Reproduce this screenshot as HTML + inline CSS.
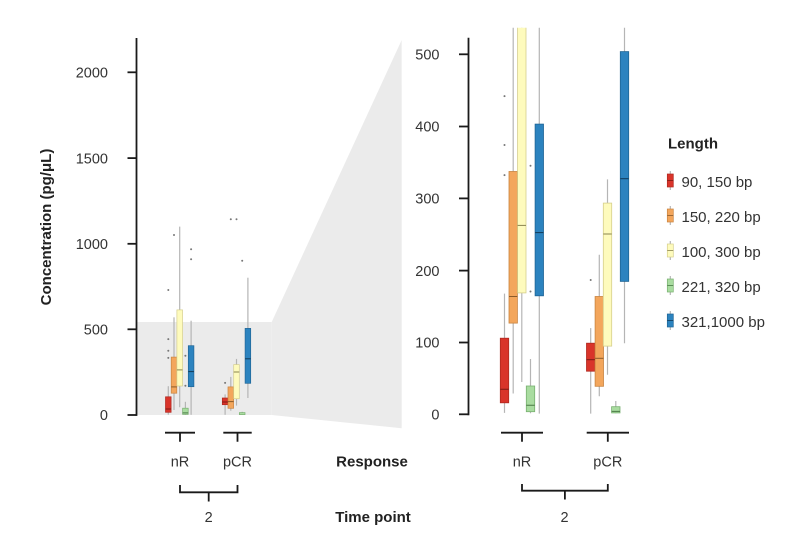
<!DOCTYPE html>
<html><head><meta charset="utf-8">
<style>
html,body{margin:0;padding:0;background:#fff;}
svg{display:block;}
text{font-family:"Liberation Sans",Arial,sans-serif;}
.tk{font-size:14.5px;fill:#333;}
.bd{font-size:15px;font-weight:bold;fill:#222;}
.lg{font-size:15px;fill:#333;}
.ax{stroke:#1a1a1a;stroke-width:1.8;fill:none;}
.wh{stroke:#b5b5b5;stroke-width:1.2;}
.md{stroke-width:1;}
.pt{fill:#777;}
</style></head>
<body>
<svg width="808" height="538" viewBox="0 0 808 538" xmlns="http://www.w3.org/2000/svg">
<defs>
<clipPath id="cr"><rect x="470" y="27.7" width="170" height="400"/></clipPath>
</defs>
<!-- grey zoom region -->
<rect x="136.5" y="322" width="135.2" height="93" fill="#ebebeb"/>
<polygon points="271.7,322 401.7,40 401.7,428.3 271.7,415" fill="#ebebeb"/>

<!-- LEFT PANEL -->
<g>
<!-- whiskers -->
<line class="wh" x1="168.3" y1="386.2" x2="168.3" y2="414.7"/>
<line class="wh" x1="174.0" y1="317.3" x2="174.0" y2="410.0"/>
<line class="wh" x1="179.7" y1="226.6" x2="179.7" y2="407.3"/>
<line class="wh" x1="185.4" y1="401.8" x2="185.4" y2="414.8"/>
<line class="wh" x1="191.1" y1="320.7" x2="191.1" y2="414.8"/>
<line class="wh" x1="225.1" y1="394.4" x2="225.1" y2="414.8"/>
<line class="wh" x1="230.8" y1="376.9" x2="230.8" y2="410.7"/>
<line class="wh" x1="236.5" y1="358.9" x2="236.5" y2="405.6"/>
<line class="wh" x1="242.2" y1="411.8" x2="242.2" y2="414.8"/>
<line class="wh" x1="247.9" y1="277.7" x2="247.9" y2="398.0"/>
<!-- boxes -->
<rect x="165.5" y="396.8" width="5.6" height="15.5" fill="#d9342a" stroke="#b02820" stroke-width="0.7"/>
<rect x="171.2" y="357.1" width="5.6" height="36.1" fill="#f3a65c" stroke="#c98440" stroke-width="0.7"/>
<rect x="176.9" y="309.9" width="5.6" height="76.1" fill="#fefbbd" stroke="#d6cf8c" stroke-width="0.7"/>
<rect x="182.6" y="408.2" width="5.6" height="6.2" fill="#a9dca0" stroke="#78b070" stroke-width="0.7"/>
<rect x="188.3" y="345.7" width="5.6" height="41.0" fill="#2c83bf" stroke="#1f6596" stroke-width="0.7"/>
<rect x="222.3" y="398.0" width="5.6" height="6.7" fill="#d9342a" stroke="#b02820" stroke-width="0.7"/>
<rect x="228.0" y="386.9" width="5.6" height="21.4" fill="#f3a65c" stroke="#c98440" stroke-width="0.7"/>
<rect x="233.7" y="364.6" width="5.6" height="34.1" fill="#fefbbd" stroke="#d6cf8c" stroke-width="0.7"/>
<rect x="239.4" y="412.6" width="5.6" height="2.0" fill="#a9dca0" stroke="#78b070" stroke-width="0.7"/>
<rect x="245.1" y="328.4" width="5.6" height="54.9" fill="#2c83bf" stroke="#1f6596" stroke-width="0.7"/>
<!-- medians -->
<g class="md">
<line x1="165.5" y1="409.0" x2="171.1" y2="409.0" stroke="#7a1a14"/>
<line x1="171.2" y1="386.9" x2="176.8" y2="386.9" stroke="#8a5a2a"/>
<line x1="176.9" y1="369.9" x2="182.5" y2="369.9" stroke="#8a8550"/>
<line x1="182.6" y1="412.9" x2="188.2" y2="412.9" stroke="#4a7a44"/>
<line x1="188.3" y1="371.6" x2="193.9" y2="371.6" stroke="#123a58"/>
<line x1="222.3" y1="402.0" x2="227.9" y2="402.0" stroke="#7a1a14"/>
<line x1="228.0" y1="401.6" x2="233.6" y2="401.6" stroke="#8a5a2a"/>
<line x1="233.7" y1="372.0" x2="239.3" y2="372.0" stroke="#8a8550"/>
<line x1="245.1" y1="358.8" x2="250.7" y2="358.8" stroke="#123a58"/>
</g>
<!-- outliers -->
<g class="pt">
<circle cx="168.3" cy="357.9" r="1"/><circle cx="168.3" cy="350.7" r="1"/>
<circle cx="168.3" cy="339.1" r="1"/><circle cx="168.3" cy="290.0" r="1"/>
<circle cx="174.0" cy="235.0" r="1"/>
<circle cx="185.4" cy="385.7" r="1"/><circle cx="185.4" cy="355.7" r="1"/>
<circle cx="191.1" cy="259.3" r="1"/><circle cx="191.1" cy="249.2" r="1"/>
<circle cx="225.1" cy="382.9" r="1"/>
<circle cx="230.8" cy="219.2" r="1"/><circle cx="236.5" cy="219.2" r="1"/>
<circle cx="242.2" cy="260.7" r="1"/>
</g>
<!-- axis -->
<line class="ax" x1="136.5" y1="38" x2="136.5" y2="415.9"/>
<line class="ax" x1="127.5" y1="72.3" x2="136.5" y2="72.3"/>
<line class="ax" x1="127.5" y1="158.1" x2="136.5" y2="158.1"/>
<line class="ax" x1="127.5" y1="243.8" x2="136.5" y2="243.8"/>
<line class="ax" x1="127.5" y1="329.3" x2="136.5" y2="329.3"/>
<line class="ax" x1="127.5" y1="415" x2="136.5" y2="415"/>
<g class="tk" text-anchor="end">
<text x="108" y="77.5">2000</text>
<text x="108" y="163.3">1500</text>
<text x="108" y="249">1000</text>
<text x="108" y="334.5">500</text>
<text x="108" y="420.2">0</text>
</g>
<text class="bd" transform="translate(51,227) rotate(-90)" text-anchor="middle">Concentration (pg/μL)</text>
<!-- brackets -->
<path class="ax" d="M165,432.7 H195 M180,432.7 V441.7 M223.3,432.7 H251.7 M237.5,432.7 V441.7"/>
<path class="ax" d="M180,485 V492.3 H237.5 V485 M208.7,492.3 V501.5"/>
<text class="tk" x="180" y="466.5" text-anchor="middle">nR</text>
<text class="tk" x="237.5" y="466.5" text-anchor="middle">pCR</text>
<text class="tk" x="208.7" y="522" text-anchor="middle">2</text>
</g>

<text class="bd" x="372" y="466.5" text-anchor="middle">Response</text>
<text class="bd" x="373" y="522" text-anchor="middle">Time point</text>

<!-- RIGHT PANEL -->
<g clip-path="url(#cr)">
<line class="wh" x1="504.5" y1="293.6" x2="504.5" y2="412.9"/>
<line class="wh" x1="513.2" y1="20" x2="513.2" y2="393.5"/>
<line class="wh" x1="521.8" y1="20" x2="521.8" y2="382.0"/>
<line class="wh" x1="530.5" y1="359.0" x2="530.5" y2="413.3"/>
<line class="wh" x1="539.3" y1="20" x2="539.3" y2="413.6"/>
<line class="wh" x1="590.7" y1="328.1" x2="590.7" y2="413.6"/>
<line class="wh" x1="599.3" y1="254.8" x2="599.3" y2="396.3"/>
<line class="wh" x1="607.5" y1="179.4" x2="607.5" y2="374.8"/>
<line class="wh" x1="615.8" y1="401.0" x2="615.8" y2="413.3"/>
<line class="wh" x1="624.5" y1="20" x2="624.5" y2="343.2"/>

<rect x="500.3" y="338.2" width="8.4" height="64.6" fill="#d9342a" stroke="#b02820" stroke-width="0.8"/>
<rect x="509.0" y="171.5" width="8.4" height="151.6" fill="#f3a65c" stroke="#c98440" stroke-width="0.8"/>
<rect x="517.6" y="20" width="8.4" height="272.9" fill="#fefbbd" stroke="#d6cf8c" stroke-width="0.8"/>
<rect x="526.3" y="386.0" width="8.4" height="25.7" fill="#a9dca0" stroke="#78b070" stroke-width="0.8"/>
<rect x="535.1" y="124.1" width="8.4" height="171.7" fill="#2c83bf" stroke="#1f6596" stroke-width="0.8"/>
<rect x="586.5" y="343.2" width="8.4" height="28.0" fill="#d9342a" stroke="#b02820" stroke-width="0.8"/>
<rect x="595.1" y="296.5" width="8.4" height="89.8" fill="#f3a65c" stroke="#c98440" stroke-width="0.8"/>
<rect x="603.3" y="203.1" width="8.4" height="143.0" fill="#fefbbd" stroke="#d6cf8c" stroke-width="0.8"/>
<rect x="611.6" y="406.7" width="8.4" height="6.2" fill="#a9dca0" stroke="#78b070" stroke-width="0.8"/>
<rect x="620.3" y="51.6" width="8.4" height="229.8" fill="#2c83bf" stroke="#1f6596" stroke-width="0.8"/>

<g class="md">
<line x1="500.3" y1="389.2" x2="508.7" y2="389.2" stroke="#7a1a14"/>
<line x1="509.0" y1="296.5" x2="517.4" y2="296.5" stroke="#8a5a2a"/>
<line x1="517.6" y1="225.4" x2="526.0" y2="225.4" stroke="#8a8550"/>
<line x1="526.3" y1="405.3" x2="534.7" y2="405.3" stroke="#4a7a44"/>
<line x1="535.1" y1="232.6" x2="543.5" y2="232.6" stroke="#123a58"/>
<line x1="586.5" y1="359.7" x2="594.9" y2="359.7" stroke="#7a1a14"/>
<line x1="595.1" y1="358.3" x2="603.5" y2="358.3" stroke="#8a5a2a"/>
<line x1="603.3" y1="234.0" x2="611.7" y2="234.0" stroke="#8a8550"/>
<line x1="611.6" y1="411.4" x2="620.0" y2="411.4" stroke="#4a7a44"/>
<line x1="620.3" y1="178.7" x2="628.7" y2="178.7" stroke="#123a58"/>
</g>
<g class="pt">
<circle cx="504.5" cy="175.1" r="1"/><circle cx="504.5" cy="145.0" r="1"/><circle cx="504.5" cy="96.1" r="1"/>
<circle cx="530.5" cy="291.5" r="1"/><circle cx="530.5" cy="165.8" r="1"/>
<circle cx="590.7" cy="280.0" r="1"/>
</g>
</g>
<line class="ax" x1="468.5" y1="37.7" x2="468.5" y2="415.2"/>
<line class="ax" x1="459" y1="54.3" x2="468.5" y2="54.3"/>
<line class="ax" x1="459" y1="126.5" x2="468.5" y2="126.5"/>
<line class="ax" x1="459" y1="198.4" x2="468.5" y2="198.4"/>
<line class="ax" x1="459" y1="270.6" x2="468.5" y2="270.6"/>
<line class="ax" x1="459" y1="342.5" x2="468.5" y2="342.5"/>
<line class="ax" x1="459" y1="414.3" x2="468.5" y2="414.3"/>
<g class="tk" text-anchor="end">
<text x="439.5" y="59.5">500</text>
<text x="439.5" y="131.7">400</text>
<text x="439.5" y="203.6">300</text>
<text x="439.5" y="275.8">200</text>
<text x="439.5" y="347.7">100</text>
<text x="439.5" y="419.5">0</text>
</g>
<path class="ax" d="M501,432.7 H543 M522,432.7 V441.7 M586.7,432.7 H629 M607.8,432.7 V441.7"/>
<path class="ax" d="M522,484 V490.7 H607.8 V484 M564.9,490.7 V499.5"/>
<text class="tk" x="522" y="466.5" text-anchor="middle">nR</text>
<text class="tk" x="607.8" y="466.5" text-anchor="middle">pCR</text>
<text class="tk" x="564.5" y="522" text-anchor="middle">2</text>

<!-- LEGEND -->
<text class="bd" x="668" y="148.5">Length</text>
<g>
<line class="wh" x1="670.3" y1="171" x2="670.3" y2="190"/>
<rect x="667.3" y="174" width="6" height="13" fill="#d9342a" stroke="#b02820" stroke-width="0.7"/>
<line x1="667.3" y1="180.5" x2="673.3" y2="180.5" stroke="#7a1a14" stroke-width="0.8"/>
<text class="lg" x="681.5" y="187">90, 150 bp</text>

<line class="wh" x1="670.3" y1="206" x2="670.3" y2="225"/>
<rect x="667.3" y="209" width="6" height="13" fill="#f3a65c" stroke="#c98440" stroke-width="0.7"/>
<line x1="667.3" y1="215.5" x2="673.3" y2="215.5" stroke="#8a5a2a" stroke-width="0.8"/>
<text class="lg" x="681.5" y="222">150, 220 bp</text>

<line class="wh" x1="670.3" y1="241" x2="670.3" y2="260"/>
<rect x="667.3" y="244" width="6" height="13" fill="#fefbbd" stroke="#d6cf8c" stroke-width="0.7"/>
<line x1="667.3" y1="250.5" x2="673.3" y2="250.5" stroke="#8a8550" stroke-width="0.8"/>
<text class="lg" x="681.5" y="257">100, 300 bp</text>

<line class="wh" x1="670.3" y1="276" x2="670.3" y2="295"/>
<rect x="667.3" y="279" width="6" height="13" fill="#a9dca0" stroke="#78b070" stroke-width="0.7"/>
<line x1="667.3" y1="285.5" x2="673.3" y2="285.5" stroke="#4a7a44" stroke-width="0.8"/>
<text class="lg" x="681.5" y="292">221, 320 bp</text>

<line class="wh" x1="670.3" y1="311" x2="670.3" y2="330"/>
<rect x="667.3" y="314" width="6" height="13" fill="#2c83bf" stroke="#1f6596" stroke-width="0.7"/>
<line x1="667.3" y1="320.5" x2="673.3" y2="320.5" stroke="#123a58" stroke-width="0.8"/>
<text class="lg" x="681.5" y="327">321,1000 bp</text>
</g>
</svg>
</body></html>
